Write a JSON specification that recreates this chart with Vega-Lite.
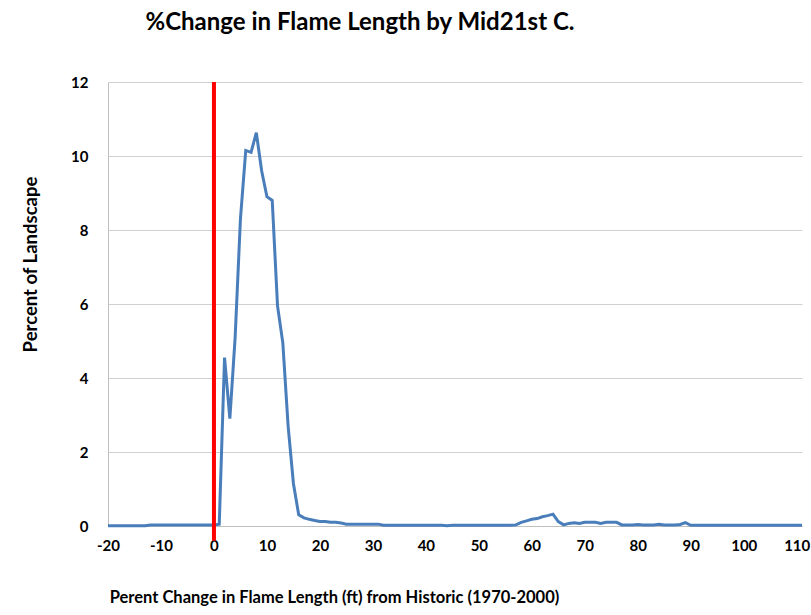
{
"$schema": "https://vega.github.io/schema/vega-lite/v6.json",
"width": 694, "height": 444,
"autosize": {"type": "none"},
"padding": {"left": 108, "top": 82, "right": 9, "bottom": 89},
"background": "white",
"config": {"font": "Lato", "view": {"stroke": null}},
"title": {"text": "%Change in Flame Length by Mid21st C.", "fontSize": 24, "fontWeight": "bold", "color": "black", "anchor": "middle", "frame": "group", "dx": -95, "offset": 40},
"datasets": {
"main": [
{"x":-20,"y":0.01},{"x":-19,"y":0.01},{"x":-18,"y":0.01},{"x":-17,"y":0.01},{"x":-16,"y":0.01},{"x":-15,"y":0.01},{"x":-14,"y":0.01},{"x":-13,"y":0.01},
{"x":-12,"y":0.03},{"x":-11,"y":0.03},{"x":-10,"y":0.03},{"x":-9,"y":0.03},{"x":-8,"y":0.03},{"x":-7,"y":0.03},{"x":-6,"y":0.03},{"x":-5,"y":0.03},{"x":-4,"y":0.03},{"x":-3,"y":0.03},{"x":-2,"y":0.03},{"x":-1,"y":0.03},{"x":0,"y":0.03},
{"x":1,"y":0.05},{"x":2,"y":4.55},{"x":3,"y":2.9},{"x":4,"y":5.1},{"x":5,"y":8.3},{"x":6,"y":10.15},{"x":7,"y":10.1},{"x":8,"y":10.63},{"x":9,"y":9.6},{"x":10,"y":8.9},{"x":11,"y":8.8},{"x":12,"y":5.95},{"x":13,"y":4.95},{"x":14,"y":2.7},{"x":15,"y":1.15},{"x":16,"y":0.3},{"x":17,"y":0.22},{"x":18,"y":0.18},{"x":19,"y":0.15},{"x":20,"y":0.12},
{"x":21,"y":0.12},{"x":22,"y":0.1},{"x":23,"y":0.1},{"x":24,"y":0.08},{"x":25,"y":0.05},{"x":26,"y":0.05},{"x":27,"y":0.05},{"x":28,"y":0.05},{"x":29,"y":0.05},{"x":30,"y":0.05},{"x":31,"y":0.05},
{"x":32,"y":0.02},{"x":33,"y":0.02},{"x":34,"y":0.02},{"x":35,"y":0.02},{"x":36,"y":0.02},{"x":37,"y":0.02},{"x":38,"y":0.02},{"x":39,"y":0.02},{"x":40,"y":0.02},{"x":41,"y":0.02},{"x":42,"y":0.02},{"x":43,"y":0.02},{"x":44,"y":0.01},{"x":45,"y":0.02},{"x":46,"y":0.02},{"x":47,"y":0.02},{"x":48,"y":0.02},{"x":49,"y":0.02},{"x":50,"y":0.02},{"x":51,"y":0.02},{"x":52,"y":0.02},{"x":53,"y":0.02},{"x":54,"y":0.02},{"x":55,"y":0.02},{"x":56,"y":0.02},
{"x":57,"y":0.03},{"x":58,"y":0.1},{"x":59,"y":0.14},{"x":60,"y":0.18},{"x":61,"y":0.2},{"x":62,"y":0.25},{"x":63,"y":0.28},{"x":64,"y":0.32},{"x":65,"y":0.12},{"x":66,"y":0.03},{"x":67,"y":0.07},{"x":68,"y":0.09},{"x":69,"y":0.07},{"x":70,"y":0.1},
{"x":71,"y":0.1},{"x":72,"y":0.1},{"x":73,"y":0.07},{"x":74,"y":0.1},{"x":75,"y":0.1},{"x":76,"y":0.1},{"x":77,"y":0.03},{"x":78,"y":0.03},{"x":79,"y":0.03},{"x":80,"y":0.04},
{"x":81,"y":0.03},{"x":82,"y":0.03},{"x":83,"y":0.03},{"x":84,"y":0.05},{"x":85,"y":0.03},{"x":86,"y":0.03},{"x":87,"y":0.03},{"x":88,"y":0.04},{"x":89,"y":0.09},{"x":90,"y":0.02},
{"x":91,"y":0.02},{"x":92,"y":0.02},{"x":93,"y":0.02},{"x":94,"y":0.02},{"x":95,"y":0.02},{"x":96,"y":0.02},{"x":97,"y":0.02},{"x":98,"y":0.02},{"x":99,"y":0.02},{"x":100,"y":0.02},
{"x":101,"y":0.02},{"x":102,"y":0.02},{"x":103,"y":0.02},{"x":104,"y":0.02},{"x":105,"y":0.02},{"x":106,"y":0.02},{"x":107,"y":0.02},{"x":108,"y":0.02},{"x":109,"y":0.02},{"x":110,"y":0.02},{"x":111,"y":0.02}
],
"ref": [{"x": 0, "y": 12, "y2": -0.4}]
},
"layer": [
{"data": {"name": "main"},
 "mark": {"type": "line", "color": "#4a7ebb", "strokeWidth": 3},
 "encoding": {
  "x": {"field": "x", "type": "quantitative", "scale": {"domain": [-20, 111], "nice": false, "zero": false},
   "axis": {"values": [-20,-10,0,10,20,30,40,50,60,70,80,90,100,110], "grid": false, "ticks": false, "domainColor": "#bfbfbf", "domainWidth": 1,
    "labelExpr": "datum.value < 0 ? '-' + abs(datum.value) : '' + datum.value",
    "labelFont": "Lato", "labelFontSize": 15, "labelFontWeight": "bold", "labelColor": "black", "labelPadding": 12, "labelFlush": false,
    "title": "Perent Change in Flame Length (ft) from Historic (1970-2000)", "titleFont": "Lato", "titleFontSize": 16.5, "titleFontWeight": "bold", "titleColor": "black",
    "titleX": 226, "titleY": 71, "titleAlign": "center", "titleBaseline": "middle"}},
  "y": {"field": "y", "type": "quantitative", "scale": {"domain": [0, 12], "nice": false},
   "axis": {"values": [0,2,4,6,8,10,12], "grid": true, "gridColor": "#d0d0d0", "gridWidth": 1, "ticks": false, "domainColor": "#bfbfbf", "domainWidth": 1,
    "labelFont": "Lato", "labelFontSize": 15, "labelFontWeight": "bold", "labelColor": "black", "labelPadding": 20,
    "title": "Percent of Landscape", "titleFont": "Lato", "titleFontSize": 18.5, "titleFontWeight": "bold", "titleColor": "black",
    "titleX": -78, "titleY": 182, "titleAngle": -90, "titleAlign": "center", "titleBaseline": "middle"}}
 }},
{"data": {"name": "ref"},
 "mark": {"type": "rule", "color": "#ff0000", "strokeWidth": 4},
 "encoding": {
  "x": {"field": "x", "type": "quantitative"},
  "y": {"field": "y", "type": "quantitative"},
  "y2": {"field": "y2"}
 }}
]
}
